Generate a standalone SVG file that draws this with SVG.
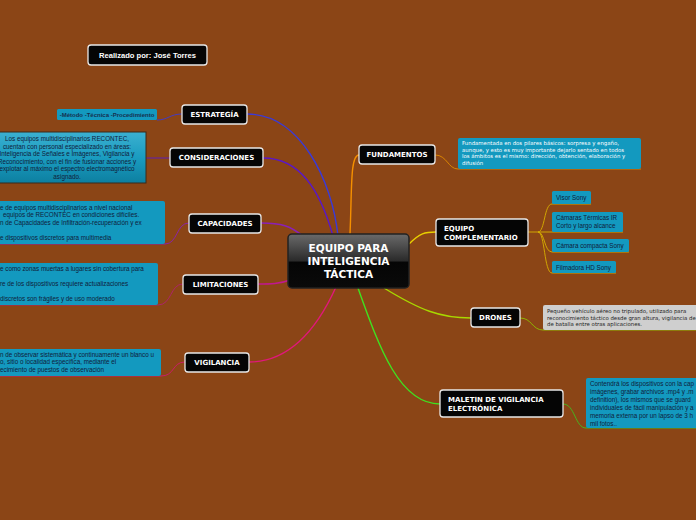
<svg xmlns="http://www.w3.org/2000/svg" width="696" height="520" viewBox="0 0 696 520">
<defs>
<linearGradient id="cg" x1="0" y1="0" x2="0" y2="1">
<stop offset="0" stop-color="#6a6a6a"/><stop offset="0.5" stop-color="#2a2a2a"/><stop offset="0.52" stop-color="#050505"/><stop offset="1" stop-color="#0a0a0a"/>
</linearGradient>
<linearGradient id="bg2" x1="0" y1="0" x2="0" y2="1">
<stop offset="0" stop-color="#3cb0d0"/><stop offset="0.5" stop-color="#1a9cc0"/><stop offset="1" stop-color="#0d7fa0"/>
</linearGradient>
<style>
.n rect{fill:#050505;stroke:#e8e8e8;stroke-width:1.3}
.nt{font-family:"DejaVu Sans",Verdana,sans-serif;font-weight:bold;font-size:7px;fill:#fff}
.d{fill:#1399bf}
.dt{font-family:"Liberation Sans",Arial,sans-serif;font-size:6.3px;fill:#10203a}
.ft{font-family:"DejaVu Sans",Verdana,sans-serif;font-size:5.4px;fill:#fff}
.c{fill:none;stroke-width:1.4}
.s{fill:none;stroke-width:0.9}
</style>
</defs>
<rect width="696" height="520" fill="#8b4516"/>

<g id="connectors">
<path class="c" stroke="#3a3ad8" d="M338,236 C332,180 300,114 247,114"/>
<path class="c" stroke="#5a18c8" d="M333,236 C320,190 300,158 263,158"/>
<path class="c" stroke="#8a20b8" d="M303,236 C290,226 282,223 261,223"/>
<path class="c" stroke="#c01890" d="M290,280 C280,284 270,284 258,284"/>
<path class="c" stroke="#e0187a" d="M336,287 C312,340 282,362 249,362"/>
<path class="c" stroke="#f59000" d="M350,234 C352,190 350,155 359,155"/>
<path class="c" stroke="#e8d000" d="M409,244 C420,233 425,232 436,232"/>
<path class="c" stroke="#a8d800" d="M384,288 C420,310 440,318 471,318"/>
<path class="c" stroke="#40e020" d="M358,288 C380,350 400,404 440,404"/>

<path class="s" stroke="#3a3ad8" d="M182,114 C170,114 168,120 157,120"/>
<path class="s" stroke="#5a18c8" d="M146,158 L170,158"/>
<path class="s" stroke="#8a20b8" d="M189,223 C176,223 178,244 165,244 L0,244"/>
<path class="s" stroke="#b02070" d="M183,284 C170,284 172,305 158,305 L0,305"/>
<path class="s" stroke="#d01870" d="M185,362 C172,362 175,376 161,376 L0,376"/>
<path class="s" stroke="#e08a00" d="M435,155 C447,155 448,169 458,169 L641,169"/>
<path class="s" stroke="#d8b000" d="M528,232 L538,232 C545,232 544,204 552,204 L591,204"/>
<path class="s" stroke="#d8b000" d="M538,232 L623,232"/>
<path class="s" stroke="#d8b000" d="M538,232 C545,232 544,252 552,252 L629,252"/>
<path class="s" stroke="#d8b000" d="M538,232 C545,232 544,273 552,273 L616,273"/>
<path class="s" stroke="#90c000" d="M520,318 C532,318 532,330 543,330 L696,330"/>
<path class="s" stroke="#40c020" d="M563,404 C575,404 575,428 586,428 L696,428"/>
</g>

<g id="autor" class="n">
<rect x="88" y="45" width="119" height="20" rx="3"/>
<text x="147.5" y="58" text-anchor="middle" style="font-family:'Liberation Sans',Arial,sans-serif;font-weight:bold;font-size:7.6px;fill:#fff">Realizado por: José Torres</text>
</g>

<g id="centro">
<rect x="288" y="234" width="121" height="54" rx="4" fill="url(#cg)" stroke="#222" stroke-width="1.5"/>
<g style="font-family:'DejaVu Sans',Verdana,sans-serif;font-weight:bold;font-size:10.5px;fill:#fff" text-anchor="middle">
<text x="348.5" y="252">EQUIPO PARA</text>
<text x="348.5" y="265">INTELIGENCIA</text>
<text x="348.5" y="278">TÁCTICA</text>
</g>
</g>

<g id="estrategia" class="n">
<rect x="182" y="105" width="65" height="19" rx="3"/>
<text class="nt" x="214.5" y="117" text-anchor="middle">ESTRATEGÍA</text>
</g>
<g id="estrategia-det">
<rect class="d" x="57" y="109" width="100" height="11" rx="1.5"/>
<text x="107" y="117" text-anchor="middle" style="font-family:'Liberation Sans',Arial,sans-serif;font-size:6px;font-weight:bold;fill:#163050">-Método  -Técnica   -Procedimiento</text>
</g>

<g id="consideraciones" class="n">
<rect x="170" y="148" width="93" height="19" rx="3"/>
<text class="nt" x="216.5" y="160" text-anchor="middle">CONSIDERACIONES</text>
</g>
<g id="consideraciones-det">
<rect x="-12" y="132" width="158" height="51" fill="url(#bg2)" stroke="#3a2a1a" stroke-width="1"/>
<g class="dt" text-anchor="middle">
<text x="67" y="141">Los equipos multidisciplinarios RECONTEC,</text>
<text x="67" y="148.5">cuentan con personal especializado en áreas:</text>
<text x="67" y="156">Inteligencia de Señales e Imágenes, Vigilancia y</text>
<text x="67" y="163.5">Reconocimiento, con el fin de fusionar acciones y</text>
<text x="67" y="171">explotar al máximo el espectro electromagnético</text>
<text x="67" y="178.5">asignado.</text>
</g>
</g>

<g id="capacidades" class="n">
<rect x="189" y="214" width="72" height="19" rx="3"/>
<text class="nt" x="225" y="226" text-anchor="middle">CAPACIDADES</text>
</g>
<g id="capacidades-det">
<rect class="d" x="-5" y="201" width="170" height="43" rx="2"/>
<g class="dt">
<text x="0" y="209.5">e de equipos multidisciplinarios a nivel nacional</text>
<text x="3" y="217">equipos de RECONTEC en condiciones difíciles.</text>
<text x="0" y="224.5">n de Capacidades de Infiltración-recuperación y ex</text>
<text x="0" y="240">e dispositivos discretos para multimedia</text>
</g>
</g>

<g id="limitaciones" class="n">
<rect x="183" y="275" width="75" height="19" rx="3"/>
<text class="nt" x="220.5" y="287" text-anchor="middle">LIMITACIONES</text>
</g>
<g id="limitaciones-det">
<rect class="d" x="-5" y="263" width="163" height="42" rx="2"/>
<g class="dt">
<text x="0" y="270.5">e como zonas muertas a lugares sin cobertura para</text>
<text x="0" y="285.5">re de los dispositivos requiere actualizaciones</text>
<text x="0" y="300.5">discretos son frágiles y de uso moderado</text>
</g>
</g>

<g id="vigilancia" class="n">
<rect x="185" y="353" width="64" height="19" rx="3"/>
<text class="nt" x="217" y="365" text-anchor="middle">VIGILANCIA</text>
</g>
<g id="vigilancia-det">
<rect class="d" x="-5" y="349" width="166" height="27" rx="2"/>
<g class="dt">
<text x="0" y="356.5">n de observar sistemática y continuamente un blanco u</text>
<text x="0" y="364">o, sitio o localidad específica, mediante el</text>
<text x="0" y="371.5">ecimiento  de puestos de observación</text>
</g>
</g>

<g id="fundamentos" class="n">
<rect x="359" y="145" width="76" height="19" rx="3"/>
<text class="nt" x="397" y="157" text-anchor="middle">FUNDAMENTOS</text>
</g>
<g id="fundamentos-det">
<rect class="d" x="458" y="138" width="183" height="31" rx="2"/>
<g class="ft">
<text x="462" y="145">Fundamentada en dos pilares básicos: sorpresa y engaño,</text>
<text x="462" y="151.5">aunque, y esto es muy importante dejarlo sentado en todos</text>
<text x="462" y="158">los ámbitos es el mismo: dirección, obtención, elaboración y</text>
<text x="462" y="164.5">difusión</text>
</g>
</g>

<g id="equipo-complementario" class="n">
<rect x="436" y="219" width="92" height="27" rx="3"/>
<text class="nt" x="444" y="230.5">EQUIPO</text>
<text class="nt" x="444" y="239.5">COMPLEMENTARIO</text>
</g>
<g id="visor">
<rect class="d" x="552" y="191" width="39" height="13" rx="1.5"/>
<text class="dt" x="556" y="200">Visor Sony</text>
</g>
<g id="camaras">
<rect class="d" x="552" y="212" width="71" height="20" rx="1.5"/>
<text class="dt" x="556" y="220">Cámaras Térmicas IR</text>
<text class="dt" x="556" y="228">Corto y largo alcance</text>
</g>
<g id="camara-compacta">
<rect class="d" x="552" y="239" width="77" height="13" rx="1.5"/>
<text class="dt" x="556" y="248">Cámara compacta Sony</text>
</g>
<g id="filmadora">
<rect class="d" x="552" y="261" width="64" height="12" rx="1.5"/>
<text class="dt" x="556" y="269.5">Filmadora HD Sony</text>
</g>

<g id="drones" class="n">
<rect x="471" y="308" width="49" height="19" rx="3"/>
<text class="nt" x="495.5" y="320" text-anchor="middle">DRONES</text>
</g>
<g id="drones-det">
<rect x="543" y="305" width="160" height="25" rx="2" fill="#cfcfcf"/>
<g class="ft" style="fill:#222">
<text x="547" y="313">Pequeño vehículo aéreo no tripulado, utilizado para</text>
<text x="547" y="319.5">reconocimiento táctico desde gran altura, vigilancia de</text>
<text x="547" y="326">de batalla entre otras aplicaciones.</text>
</g>
</g>

<g id="maletin" class="n">
<rect x="440" y="390" width="123" height="27" rx="3"/>
<text class="nt" x="448" y="402">MALETIN DE VIGILANCIA</text>
<text class="nt" x="448" y="411">ELECTRÓNICA</text>
</g>
<g id="maletin-det">
<rect class="d" x="586" y="378" width="120" height="50" rx="2"/>
<g class="dt">
<text x="590" y="385.5">Contendrá los dispositivos con la cap</text>
<text x="590" y="393.5">imágenes, grabar archivos .mp4 y .m</text>
<text x="590" y="401.5">definition), los mismos que se guard</text>
<text x="590" y="409.5">individuales de fácil manipulación y a</text>
<text x="590" y="417.5">memoria externa por un lapso de 3 h</text>
<text x="590" y="425.5">mil fotos..</text>
</g>
</g>
</svg>
